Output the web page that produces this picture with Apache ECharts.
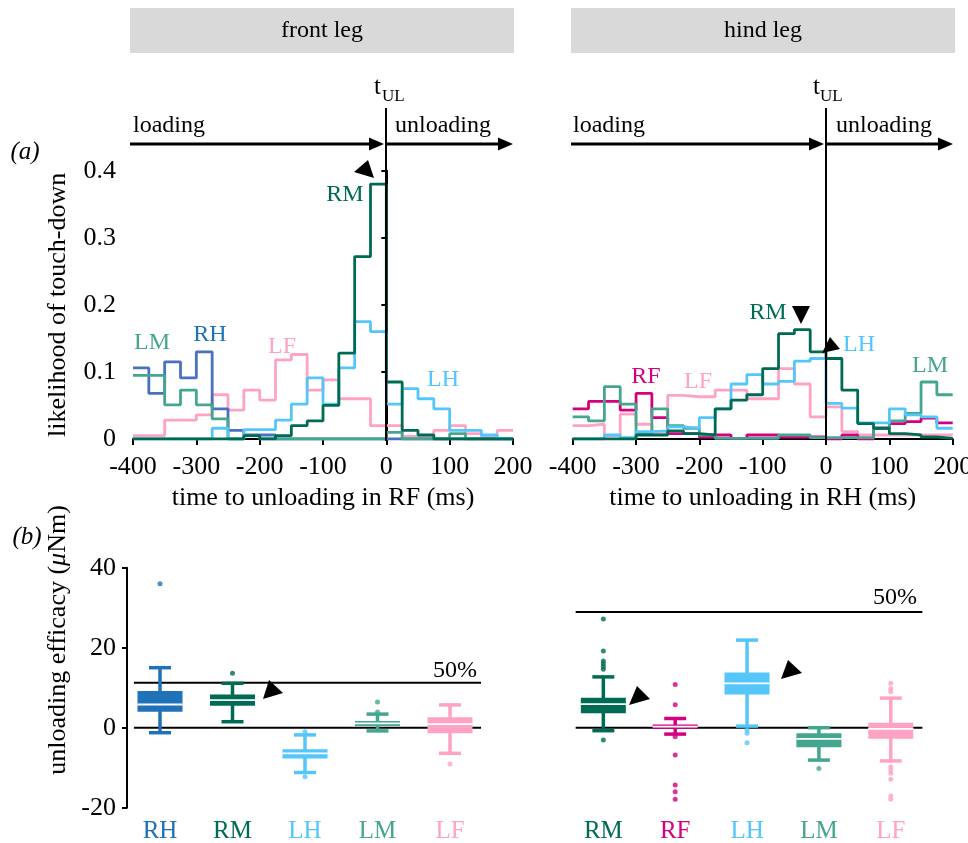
<!DOCTYPE html>
<html>
<head>
<meta charset="utf-8">
<script src="https://cdn.jsdelivr.net/npm/echarts@6/dist/echarts.min.js"></script>
<style>html,body{margin:0;background:#fff}#chart{width:968px;height:843px}</style>
</head>
<body>
<div id="chart"></div>
<script>
// bin edges (ms) of the touch-down histograms
var binEdges = [-400, -375, -350, -325, -300, -275, -250, -225, -200, -175, -150, -125, -100, -75, -50, -25, 0, 25, 50, 75, 100, 125, 150, 175, 200];

// front leg (unloading in RF)
var frontRM = [0, 0, 0, 0, 0, 0, 0, 0.005, 0, 0.005, 0.02, 0.027, 0.05, 0.128, 0.272, 0.38, 0.085, 0.013, 0.006, 0, 0, 0, 0, 0];
var frontLH = [0, 0, 0, 0, 0, 0.016, 0, 0.014, 0.014, 0.028, 0.052, 0.091, 0.052, 0.106, 0.175, 0.16, 0.052, 0.075, 0.06, 0.045, 0.013, 0.013, 0.006, 0];
var frontLF = [0.005, 0.005, 0.028, 0.028, 0.036, 0.066, 0.043, 0.073, 0.058, 0.118, 0.126, 0.073, 0.088, 0.06, 0.06, 0.02, 0.02, 0.004, 0.004, 0.013, 0.02, 0.008, 0.003, 0.013];
var frontRH = [0.106, 0.068, 0.115, 0.091, 0.13, 0.045, 0.013, 0.006, 0.006, 0, 0, 0, 0, 0, 0, 0, 0, 0, 0, 0, 0, 0, 0, 0];
var frontLM = [0.095, 0.095, 0.051, 0.073, 0.051, 0.03, 0, 0.005, 0, 0, 0, 0, 0, 0, 0, 0, 0.01, 0, 0, 0, 0.008, 0, 0, 0];

// hind leg (unloading in RH)
var hindRM = [0, 0, 0, 0, 0.006, 0.006, 0.012, 0.008, 0.006, 0.045, 0.058, 0.066, 0.105, 0.157, 0.163, 0.13, 0.12, 0.073, 0.023, 0.016, 0.008, 0.006, 0.003, 0.001];
var hindLH = [0, 0, 0.006, 0.002, 0.011, 0.012, 0.018, 0.016, 0.032, 0.045, 0.082, 0.096, 0.082, 0.086, 0.116, 0.12, 0.053, 0.046, 0.024, 0.024, 0.045, 0.036, 0.033, 0.016];
var hindRF = [0.045, 0.056, 0.056, 0.043, 0.068, 0.032, 0.008, 0.008, 0.003, 0.006, 0.001, 0.006, 0.006, 0.003, 0.003, 0.003, 0, 0.006, 0, 0.016, 0.023, 0.026, 0.031, 0.024];
var hindLF = [0.02, 0.022, 0.005, 0.037, 0.022, 0.008, 0.065, 0.063, 0.063, 0.073, 0.073, 0.06, 0.06, 0.105, 0.082, 0.033, 0.048, 0.011, 0.006, 0.006, 0.006, 0.006, 0.006, 0.006];
var hindLM = [0.033, 0.027, 0.078, 0.052, 0.008, 0.045, 0.02, 0.016, 0.006, 0.001, 0.001, 0.001, 0.001, 0.006, 0.006, 0.002, 0.002, 0.002, 0.002, 0.016, 0.027, 0.038, 0.085, 0.066];

// unloading efficacy boxes: [low whisker, q1, median, q3, high whisker]
var frontLegs = ['RH', 'RM', 'LH', 'LM', 'LF'];
var frontBoxes = [
	[-1.25, 4, 5.8, 9.2, 15],
	[1.5, 5.5, 6.9, 8.3, 11.1],
	[-11.2, -7.7, -6.4, -5.4, -1.8],
	[-0.8, 0.4, 1.1, 1.7, 3.4],
	[-6.4, -1.4, 0.9, 2.6, 5.7]
];
var frontOutliers = [[0, 36], [1, 13.6], [2, -1], [2, -12.25], [3, 6.4], [3, 3.9], [4, -9.1]];
var frontFifty = 11.25;

var hindLegs = ['RM', 'RF', 'LH', 'LM', 'LF'];
var hindBoxes = [
	[-0.75, 3.6, 5.9, 7.5, 12.7],
	[-1.6, -0.25, 0.25, 0.83, 2.3],
	[0.4, 8.3, 11.1, 13.8, 21.9],
	[-8.1, -4.9, -2.8, -1.4, 0],
	[-8.3, -2.75, -0.3, 1.25, 7.4]
];
var hindOutliers = [
	[0, 27.2], [0, 19.2], [0, 16.7], [0, 16.0], [0, 15.3], [0, 14.6], [0, -3.1],
	[1, 10.8], [1, 5.75], [1, -2.25], [1, -6.8], [1, -14.3], [1, -16], [1, -17.9],
	[2, -0.6], [2, -1.4], [2, -3.75],
	[3, -10.2],
	[4, 11.1], [4, 9.8], [4, 9.0], [4, -9.75], [4, -10.6], [4, -11.4], [4, -12.9], [4, -17.1], [4, -17.9]
];
var hindFifty = 28.9;

var serif = 'Liberation Serif';
var cRM = '#006b55', cLM = '#45a68f', cLH = '#54c6fa', cLF = '#ffa3c4', cRH = '#4a70c0', cRHbox = '#1f72b8', cRF = '#d4007f';
var frontColors = [cRHbox, cRM, cLH, cLM, cLF];
var hindColors = [cRM, cRF, cLH, cLM, cLF];

var chart = echarts.init(document.getElementById('chart'));

function histSeries(vals, color, gi) {
	return {
		type: 'line', step: 'end', xAxisIndex: gi, yAxisIndex: gi, symbol: 'none',
		data: binEdges.map(function (e, i) { return [e, vals[Math.min(i, vals.length - 1)]]; }),
		lineStyle: { color: color, width: 2.8 }, itemStyle: { color: color }
	};
}

function boxSeries(boxes, colors, gi) {
	return {
		type: 'custom', xAxisIndex: gi, yAxisIndex: gi,
		encode: { x: 0, y: [1, 2, 3, 4, 5] },
		data: boxes.map(function (b, i) { return [i].concat(b); }),
		renderItem: function (params, api) {
			var i = api.value(0);
			var color = colors[params.dataIndex];
			var lo = api.coord([i, api.value(1)]);
			var q1 = api.coord([i, api.value(2)]);
			var md = api.coord([i, api.value(3)]);
			var q3 = api.coord([i, api.value(4)]);
			var hi = api.coord([i, api.value(5)]);
			var x = lo[0], bw = 45, cw = 22;
			var st = { stroke: color, lineWidth: 3.5 };
			return {
				type: 'group', children: [
					{ type: 'line', shape: { x1: x, y1: hi[1], x2: x, y2: lo[1] }, style: st },
					{ type: 'line', shape: { x1: x - cw / 2, y1: hi[1], x2: x + cw / 2, y2: hi[1] }, style: st },
					{ type: 'line', shape: { x1: x - cw / 2, y1: lo[1], x2: x + cw / 2, y2: lo[1] }, style: st },
					{ type: 'rect', shape: { x: x - bw / 2, y: q3[1], width: bw, height: Math.max(q1[1] - q3[1], 3) }, style: { fill: color } },
					{ type: 'line', shape: { x1: x - bw / 2, y1: md[1], x2: x + bw / 2, y2: md[1] }, style: { stroke: '#fff', lineWidth: 1.8 } }
				]
			};
		}
	};
}

function outlierSeries(pts, colors, gi) {
	return {
		type: 'scatter', xAxisIndex: gi, yAxisIndex: gi, symbolSize: 5, data: pts,
		itemStyle: { color: function (p) { return colors[p.value[0]]; } }
	};
}

function refLine(y, x0, x1, xi, yi) {
	return {
		type: 'line', xAxisIndex: xi, yAxisIndex: yi, symbol: 'none',
		data: [[x0, y], [x1, y]], lineStyle: { color: '#000', width: 2 }, z: 1
	};
}

var axisFont = { fontFamily: serif, fontSize: 26, color: '#000' };

function timeAxis(gi, title) {
	return {
		type: 'value', gridIndex: gi, min: -400, max: 200, interval: 100, offset: 8,
		axisLine: { lineStyle: { color: '#000', width: 2 } },
		axisTick: { length: 6, lineStyle: { color: '#000', width: 2 } },
		axisLabel: { fontFamily: serif, fontSize: 26, color: '#000', margin: 7 },
		splitLine: { show: false },
		name: title, nameLocation: 'middle', nameGap: 38,
		nameTextStyle: axisFont
	};
}

function legAxis(gi, legs, colors) {
	return {
		type: 'category', gridIndex: gi, data: legs,
		axisLine: { show: false }, axisTick: { show: false },
		axisLabel: { fontFamily: serif, fontSize: 25, margin: 11, color: function (v, i) { return colors[i]; } }
	};
}

function text(x, y, s, color, extra) {
	var style = { x: x, y: y, text: s, fill: color || '#000', font: '24px "' + serif + '"', textAlign: 'center', textVerticalAlign: 'middle' };
	for (var k in extra) style[k] = extra[k];
	return { type: 'text', style: style, z: 10 };
}
function tri(pts) {
	return { type: 'polygon', shape: { points: pts }, style: { fill: '#000' }, z: 10 };
}
function seg(x1, y1, x2, y2, w) {
	return { type: 'line', shape: { x1: x1, y1: y1, x2: x2, y2: y2 }, style: { stroke: '#000', lineWidth: w }, z: 10 };
}
function arrow(x0, x1, y) {
	return [seg(x0, y, x1 - 12, y, 3), tri([[x1 - 15, y - 6.5], [x1, y], [x1 - 15, y + 6.5]])];
}

var graphics = [
	{ type: 'rect', shape: { x: 130, y: 8, width: 384, height: 45 }, style: { fill: '#d9d9d9' } },
	{ type: 'rect', shape: { x: 571, y: 8, width: 384, height: 45 }, style: { fill: '#d9d9d9' } },
	text(322, 31, 'front leg'),
	text(763, 31, 'hind leg'),
	text(25, 152, '(a)', '#000', { font: 'italic 25px "' + serif + '"' }),
	text(27, 537, '(b)', '#000', { font: 'italic 25px "' + serif + '"' }),
	text(374, 87, 't', '#000', { textAlign: 'left', font: '25px "' + serif + '"' }),
	text(382, 97, 'UL', '#000', { textAlign: 'left', font: '17px "' + serif + '"' }),
	text(813, 87, 't', '#000', { textAlign: 'left', font: '25px "' + serif + '"' }),
	text(820, 97, 'UL', '#000', { textAlign: 'left', font: '17px "' + serif + '"' }),
	seg(386, 108, 386, 441, 2),
	seg(826, 108, 826, 441, 2),
	text(133, 126, 'loading', '#000', { textAlign: 'left' }),
	text(395, 126, 'unloading', '#000', { textAlign: 'left' }),
	text(573, 126, 'loading', '#000', { textAlign: 'left' }),
	text(836, 126, 'unloading', '#000', { textAlign: 'left' }),
	text(152, 343, 'LM', cLM), text(210, 335, 'RH', cRHbox), text(282, 347, 'LF', cLF),
	text(345, 195, 'RM', cRM), text(443, 380, 'LH', cLH),
	text(768, 313, 'RM', cRM), text(859, 345, 'LH', cLH), text(646, 377, 'RF', cRF),
	text(698, 382, 'LF', cLF), text(930, 366, 'LM', cLM),
	text(455, 671, '50%'), text(895, 598, '50%'),
	tri([[354, 172], [368, 160], [374, 178]]),
	tri([[792, 306], [810, 306], [801, 324]]),
	tri([[830, 337], [840, 349], [822, 353]]),
	tri([[263, 699], [269, 680], [283, 693]]),
	tri([[629, 705], [637, 686], [650, 699]]),
	tri([[781, 679], [788, 660], [802, 673]]),
	{
		type: 'text', z: 10, rotation: Math.PI / 2,
		x: 58, y: 640,
		style: {
			text: '{a|unloading efficacy (}{b|μ}{a|Nm)}', textAlign: 'center', textVerticalAlign: 'middle',
			rich: { a: axisFont, b: { fontFamily: serif, fontSize: 26, fontStyle: 'italic', color: '#000' } }
		}
	}
].concat(arrow(130, 384, 144), arrow(386, 513, 144), arrow(571, 824, 144), arrow(826, 953, 144));

var option = {
	animation: false,
	backgroundColor: '#fff',
	grid: [
		{ left: 133, top: 170.7, width: 380, height: 268.3, outerBoundsMode: 'none' },
		{ left: 572.7, top: 170.7, width: 380, height: 268.3, outerBoundsMode: 'none' },
		{ left: 123.75, top: 567.7, width: 362.5, height: 240, outerBoundsMode: 'none' },
		{ left: 567.4, top: 567.7, width: 359.3, height: 240, outerBoundsMode: 'none' }
	],
	xAxis: [
		timeAxis(0, 'time to unloading in RF (ms)'),
		timeAxis(1, 'time to unloading in RH (ms)'),
		legAxis(2, frontLegs, frontColors),
		legAxis(3, hindLegs, hindColors),
		{ type: 'value', gridIndex: 2, min: 0, max: 1, show: false },
		{ type: 'value', gridIndex: 3, min: 0, max: 1, show: false }
	],
	yAxis: [
		{
			type: 'value', gridIndex: 0, min: 0, max: 0.4, interval: 0.1, offset: 6,
			axisLine: { show: true, lineStyle: { color: '#000', width: 2 } },
			axisTick: { show: true, length: 5, lineStyle: { color: '#000', width: 2 } },
			axisLabel: { fontFamily: serif, fontSize: 26, color: '#000', margin: 11 },
			splitLine: { show: false },
			name: 'likelihood of touch-down', nameLocation: 'middle', nameGap: 56,
			nameTextStyle: axisFont
		},
		{ type: 'value', gridIndex: 1, min: 0, max: 0.4, show: false },
		{
			type: 'value', gridIndex: 2, min: -20, max: 40, interval: 20, offset: -3.25,
			axisLine: { show: true, lineStyle: { color: '#000', width: 2 } },
			axisTick: { show: true, length: 5, lineStyle: { color: '#000', width: 2 } },
			axisLabel: { fontFamily: serif, fontSize: 26, color: '#000', margin: 11 },
			splitLine: { show: false }
		},
		{ type: 'value', gridIndex: 3, min: -20, max: 40, show: false }
	],
	series: [
		histSeries(frontLF, cLF, 0),
		histSeries(frontRH, cRH, 0),
		histSeries(frontLM, cLM, 0),
		histSeries(frontLH, cLH, 0),
		histSeries(frontRM, cRM, 0),
		histSeries(hindLF, cLF, 1),
		histSeries(hindRF, cRF, 1),
		histSeries(hindLM, cLM, 1),
		histSeries(hindLH, cLH, 1),
		histSeries(hindRM, cRM, 1),
		refLine(0, 0.028, 0.9855, 4, 2),
		refLine(frontFifty, 0.028, 0.9855, 4, 2),
		refLine(0, 0.023, 0.988, 5, 3),
		refLine(hindFifty, 0.023, 0.988, 5, 3),
		boxSeries(frontBoxes, frontColors, 2),
		boxSeries(hindBoxes, hindColors, 3),
		outlierSeries(frontOutliers, frontColors, 2),
		outlierSeries(hindOutliers, hindColors, 3)
	],
	graphic: graphics
};
chart.setOption(option);
</script>
</body>
</html>
